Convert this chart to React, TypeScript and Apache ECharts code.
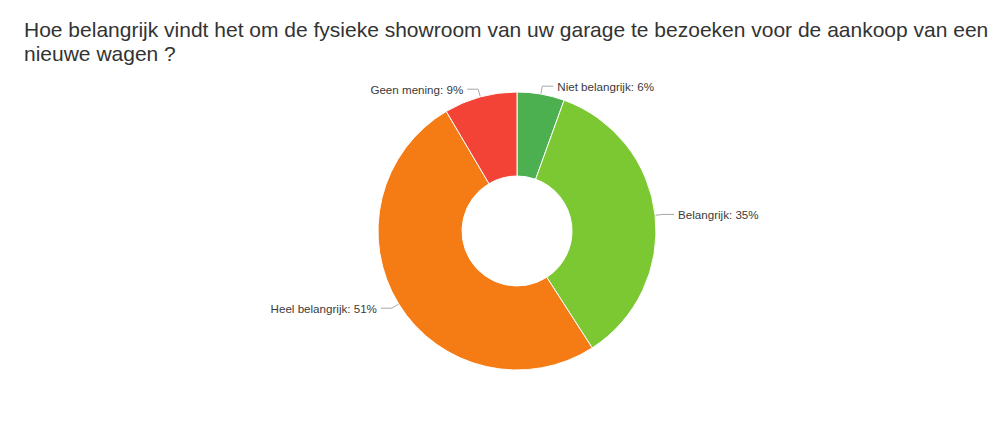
import { useEffect, useRef } from 'react';
import * as echarts from 'echarts';

const titleText =
  'Hoe belangrijk vindt het om de fysieke showroom van uw garage te bezoeken voor de aankoop van een\nnieuwe wagen ?';

const categories = ['Niet belangrijk', 'Belangrijk', 'Heel belangrijk', 'Geen mening'];
const shares = [5.5, 35.4, 50.6, 8.5];
const sliceColors = ['#4caf50', '#7cc832', '#f57b14', '#f34336'];

export default function App() {
  const chartRef = useRef<HTMLDivElement>(null);

  useEffect(() => {
    if (!chartRef.current) return;
    const chart = echarts.init(chartRef.current, undefined, { renderer: 'svg' });

    const option: echarts.EChartsOption = {
      animation: false,
      backgroundColor: '#ffffff',
      title: {
        text: titleText,
        left: 19,
        top: 12,
        textStyle: {
          fontFamily: 'Arial, "Liberation Sans", sans-serif',
          fontSize: 21,
          fontWeight: 'normal',
          color: '#333333',
          lineHeight: 24
        }
      },
      series: [
        {
          type: 'pie',
          center: [517, 231],
          radius: [55, 139],
          startAngle: 90,
          clockwise: true,
          avoidLabelOverlap: false,
          itemStyle: { borderColor: '#ffffff', borderWidth: 1 },
          label: {
            show: true,
            fontFamily: 'Arial, "Liberation Sans", sans-serif',
            fontSize: 11.6,
            color: '#3a3a3a',
            distanceToLabelLine: 4,
            // eslint-disable-next-line @typescript-eslint/no-explicit-any
            formatter: (p: any) => `${p.name}: ${Math.round(p.percent)}%`
          },
          labelLine: {
            show: true,
            length: 8,
            length2: 11,
            lineStyle: { color: '#a8a8a8', width: 1 }
          },
          emphasis: { disabled: true },
          data: categories.map((name, i) => ({
            name,
            value: shares[i],
            itemStyle: { color: sliceColors[i] }
          }))
        }
      ]
    };

    chart.setOption(option);
    return () => chart.dispose();
  }, []);

  return (
    <div
      ref={chartRef}
      style={{ position: 'fixed', left: 0, top: 0, width: 1000, height: 422, background: '#fff' }}
    />
  );
}
